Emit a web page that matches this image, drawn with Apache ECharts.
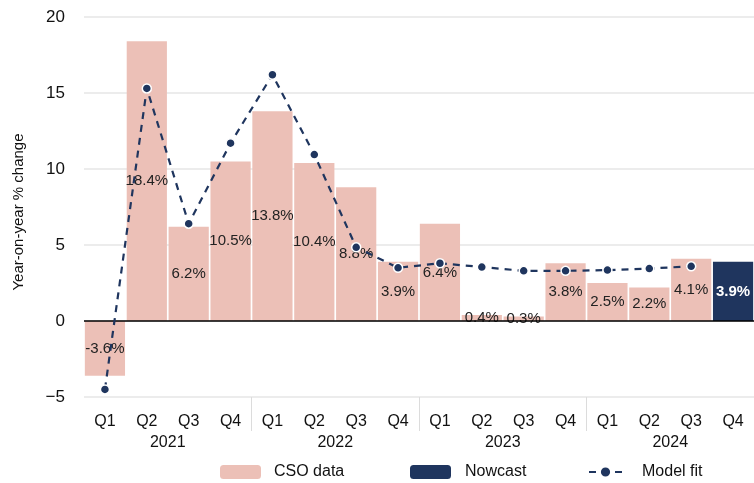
<!DOCTYPE html>
<html>
<head>
<meta charset="utf-8">
<script src="https://cdn.jsdelivr.net/npm/echarts@6/dist/echarts.min.js"></script>
<style>
html, body { margin: 0; padding: 0; background: #fff; }
#chart { width: 754px; height: 483px; }
</style>
</head>
<body>
<div id="chart"></div>
<script>
var quarters = ['Q1', 'Q2', 'Q3', 'Q4', 'Q1', 'Q2', 'Q3', 'Q4', 'Q1', 'Q2', 'Q3', 'Q4', 'Q1', 'Q2', 'Q3', 'Q4'];
var years = ['2021', '2022', '2023', '2024'];
var csoData = [-3.6, 18.4, 6.2, 10.5, 13.8, 10.4, 8.8, 3.9, 6.4, 0.4, 0.3, 3.8, 2.5, 2.2, 4.1, '-'];
var nowcast = ['-', '-', '-', '-', '-', '-', '-', '-', '-', '-', '-', '-', '-', '-', '-', 3.9];
var modelFit = [-4.5, 15.3, 6.4, 11.7, 16.2, 10.95, 4.85, 3.5, 3.8, 3.55, 3.3, 3.3, 3.35, 3.45, 3.6, '-'];

var pink = '#ecc0b7';
var navy = '#1f355e';
var font = '"Liberation Sans", Arial, sans-serif';

function legendItem(name, left, w, gap) {
	return {
		data: [name],
		left: left,
		top: 464,
		padding: 0,
		itemWidth: w,
		itemHeight: 14,
		textStyle: { fontSize: 16, color: '#111', fontFamily: font, padding: [0, 0, 0, gap] }
	};
}

var chart = echarts.init(document.getElementById('chart'));
chart.setOption({
	animation: false,
	textStyle: { fontFamily: font },
	grid: { left: 84, right: 0, top: 17, bottom: 86 },
	legend: [
		legendItem('CSO data', 220, 41, 8),
		legendItem('Nowcast', 410, 41, 9),
		legendItem('Model fit', 588, 33, 15)
	],
	xAxis: [{
		type: 'category',
		data: quarters,
		position: 'bottom',
		axisLine: { show: false, onZero: false },
		axisTick: { show: false },
		axisLabel: { fontSize: 16, color: '#111', margin: 17, interval: 0 }
	}, {
		type: 'category',
		data: years,
		position: 'bottom',
		axisLine: { show: false, onZero: false },
		axisTick: {
			show: true,
			length: 34,
			interval: function (i) { return i > 0; },
			lineStyle: { color: '#dcdcdc', width: 1 }
		},
		axisLabel: { fontSize: 16, color: '#111', margin: 38, interval: 0 }
	}],
	yAxis: {
		type: 'value',
		min: -5,
		max: 20,
		interval: 5,
		name: 'Year-on-year % change',
		nameLocation: 'middle',
		nameGap: 58,
		nameRotate: 90,
		nameTextStyle: { fontSize: 15, color: '#111', padding: [0, 10, 0, 0] },
		axisLine: { show: false },
		axisTick: { show: false },
		axisLabel: {
			fontSize: 17,
			color: '#111',
			margin: 19,
			formatter: function (v) { return String(v).replace('-', '\u2212'); }
		},
		splitLine: { lineStyle: { color: '#e6e6e6', width: 1.5 } }
	},
	series: [{
		name: 'CSO data',
		type: 'bar',
		data: csoData,
		barCategoryGap: '4%',
		barGap: '-100%',
		itemStyle: { color: pink },
		label: {
			show: true,
			position: 'inside',
			fontSize: 15,
			color: '#222',
			formatter: function (p) { return p.value + '%'; }
		}
	}, {
		name: 'Nowcast',
		type: 'bar',
		data: nowcast,
		barCategoryGap: '4%',
		barGap: '-100%',
		itemStyle: { color: navy },
		label: {
			show: true,
			position: 'inside',
			fontSize: 15,
			fontWeight: 'bold',
			color: '#fff',
			formatter: function (p) { return p.value + '%'; }
		},
		markLine: {
			silent: true,
			symbol: 'none',
			label: { show: false },
			lineStyle: { color: '#000', width: 1.5, type: 'solid' },
			data: [{ yAxis: 0 }]
		}
	}, {
		name: 'Model fit',
		type: 'line',
		data: modelFit,
		symbol: 'circle',
		symbolSize: 9,
		z: 5,
		itemStyle: { color: navy, borderColor: '#fff', borderWidth: 1.5 },
		lineStyle: { color: navy, width: 2.2, type: [7, 6] }
	}]
});
</script>
</body>
</html>
